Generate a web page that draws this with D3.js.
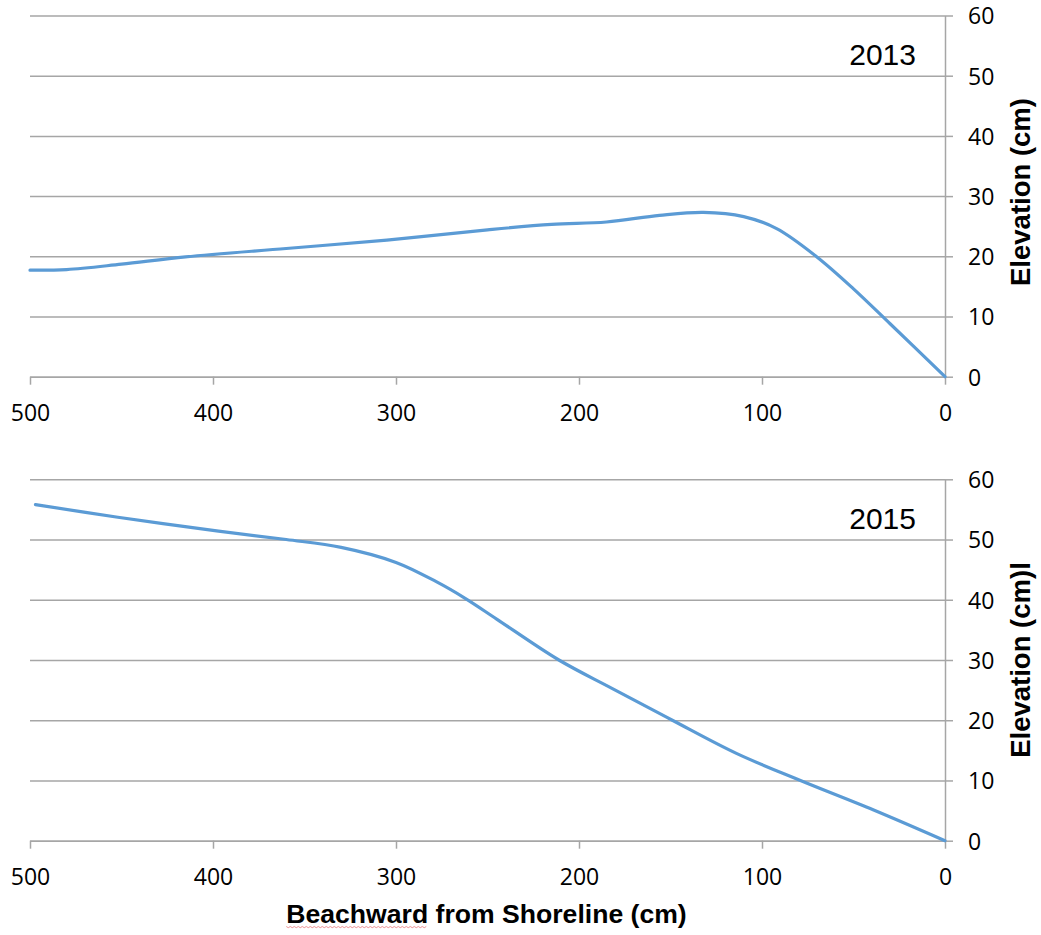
<!DOCTYPE html>
<html>
<head>
<meta charset="utf-8">
<script src="https://cdn.jsdelivr.net/npm/d3@7"></script>
<style>
  html, body { margin: 0; padding: 0; background: #ffffff; }
  svg { display: block; }
</style>
</head>
<body>
<svg id="chart" width="1041" height="935"></svg>
<script>
// Beach profile, 2013 survey: distance from shoreline (cm) and elevation (cm)
const dist2013 = [500, 480, 450, 415, 360, 305, 250, 215, 185, 156, 132, 110, 92, 70, 50, 30, 0];
const elev2013 = [17.7, 17.8, 18.7, 19.9, 21.3, 22.7, 24.4, 25.3, 25.7, 26.8, 27.3, 26.6, 24.6, 19.9, 14.6, 8.8, 0];

// Beach profile, 2015 survey
const dist2015 = [497, 452, 397, 360, 330, 300, 278, 262, 245, 211, 182, 149, 114, 79, 39, 0];
const elev2015 = [55.8, 53.7, 51.4, 50.0, 48.7, 46.2, 43.0, 40.2, 36.8, 30.0, 25.3, 20.0, 14.5, 10.0, 5.1, 0];

const xTicks = [500, 400, 300, 200, 100, 0];
const yTicks = [0, 10, 20, 30, 40, 50, 60];
const panelYears = ["2013", "2015"];
const yTitles = ["Elevation (cm)", "Elevation (cm)l"];
const xTitle = "Beachward from Shoreline (cm)";

const svg = d3.select("#chart");
const gridColor = "#a6a6a6";
const lineColor = "#5b9bd5";
const tickFont = "'Open Sans', 'Noto Sans', sans-serif";
const titleFont = "'Liberation Sans', Arial, sans-serif";

const left = 30, right = 945;
const x = d3.scaleLinear().domain([500, 0]).range([left, right]);

const panels = [
  { top: 15.5, bottom: 376.7, dist: dist2013, elev: elev2013, year: panelYears[0], title: yTitles[0], titleY: 192 },
  { top: 479.3, bottom: 840.7, dist: dist2015, elev: elev2015, year: panelYears[1], title: yTitles[1], titleY: 660 }
];

panels.forEach(p => {
  const y = d3.scaleLinear().domain([0, 60]).range([p.bottom, p.top]);
  const g = svg.append("g");

  // horizontal gridlines
  const grid = g.append("g")
    .attr("transform", `translate(${right},0)`)
    .call(d3.axisLeft(y).tickValues(yTicks).tickSize(right - left).tickFormat(""));
  grid.select(".domain").remove();
  grid.selectAll("line").attr("stroke", gridColor).attr("stroke-width", 1.5);

  // right value axis
  const ya = g.append("g")
    .attr("transform", `translate(${right},0)`)
    .call(d3.axisRight(y).tickValues(yTicks).tickSize(8).tickSizeOuter(0));
  ya.select(".domain").attr("stroke", gridColor).attr("stroke-width", 1.5);
  ya.selectAll("line").attr("stroke", gridColor).attr("stroke-width", 1.5);
  ya.selectAll("text")
    .attr("x", 23).attr("dy", null).attr("y", 8.3)
    .attr("text-anchor", "start")
    .attr("fill", "#000")
    .style("font-family", tickFont).style("font-size", "23px");

  // bottom distance axis
  const xa = g.append("g")
    .attr("transform", `translate(0,${p.bottom})`)
    .call(d3.axisBottom(x).tickValues(xTicks).tickSize(8).tickSizeOuter(0));
  xa.select(".domain").attr("stroke", gridColor).attr("stroke-width", 1.5);
  xa.selectAll("line").attr("stroke", gridColor).attr("stroke-width", 1.5);
  xa.selectAll("text")
    .attr("y", 44).attr("dy", null)
    .attr("fill", "#000")
    .style("font-family", tickFont).style("font-size", "23px");

  // profile line
  const pts = p.dist.map((d, i) => [d, p.elev[i]]);
  const line = d3.line()
    .x(d => x(d[0]))
    .y(d => y(d[1]))
    .curve(d3.curveCatmullRom.alpha(0.5));
  g.append("path")
    .datum(pts)
    .attr("d", line)
    .attr("fill", "none")
    .attr("stroke", lineColor)
    .attr("stroke-width", 3.2)
    .attr("stroke-linecap", "round")
    .attr("stroke-linejoin", "round");

  // year label
  g.append("text")
    .attr("x", 916).attr("y", p.top + 49.5)
    .attr("text-anchor", "end")
    .style("font-family", titleFont).style("font-size", "30px")
    .attr("fill", "#000")
    .text(p.year);

  // right axis title
  g.append("text")
    .attr("transform", `translate(1030,${p.titleY}) rotate(-90)`)
    .attr("text-anchor", "middle")
    .style("font-family", titleFont).style("font-size", "27.5px").style("font-weight", "bold")
    .attr("fill", "#000")
    .text(p.title);
});

// shared horizontal axis title
const xt = svg.append("text")
  .attr("x", (left + right) / 2 - 1).attr("y", 923)
  .attr("text-anchor", "middle")
  .style("font-family", titleFont).style("font-size", "26.6px").style("font-weight", "bold")
  .attr("fill", "#000")
  .text(xTitle);

// spell-check squiggle under the first word
const firstWordLen = xTitle.indexOf(" ");
const start = xt.node().getStartPositionOfChar(0).x;
const wlen = xt.node().getSubStringLength(0, firstWordLen);
const sq = [];
for (let px = 0; px <= wlen; px += 2) sq.push([start + px, 926.5 + ((px / 2) % 2 === 0 ? 0 : 1.2)]);
svg.append("path")
  .attr("d", d3.line()(sq))
  .attr("fill", "none")
  .attr("stroke", "#e8787a")
  .attr("stroke-width", 1)
  .attr("opacity", 0.8);
</script>
</body>
</html>
